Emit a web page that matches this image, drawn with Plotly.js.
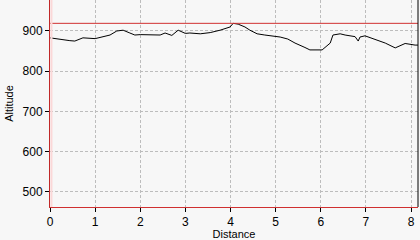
<!DOCTYPE html>
<html><head><meta charset="utf-8">
<script src="https://cdn.plot.ly/plotly-3.0.1.min.js"></script>
<style>html,body{margin:0;padding:0;background:#f7f7f7;}</style>
</head><body><div id="c" style="width:420px;height:240px;"></div>
<script>
const distance = [0.00,0.22,0.44,0.55,0.73,1.00,1.22,1.33,1.48,1.62,1.77,1.88,2.00,2.44,2.55,2.70,2.84,3.00,3.10,3.33,3.55,3.77,3.99,4.06,4.17,4.32,4.43,4.59,4.76,5.10,5.27,5.43,5.65,5.76,6.03,6.05,6.21,6.27,6.43,6.54,6.76,6.83,6.87,6.98,7.21,7.43,7.65,7.76,7.87,8.09,8.18];
const altitude = [883,879,876,875,883,881,888,890,900,902,895,890,891,890,895,889,902,894,895,893,896,902,910,919,917,910,902,893,890,885,880,870,859,853,853,855,870,890,893,890,886,875,885,888,878,870,858,863,869,865,865];
const xTicks = [0,1,2,3,4,5,6,7,8];
const yTicks = [500,600,700,800,900];
const maxAlt = Math.max(...altitude);

const font = {family:'Liberation Sans, DejaVu Sans, sans-serif', size:12, color:'#000'};
const tfont = {family:'Liberation Sans, DejaVu Sans, sans-serif', size:11, color:'#000'};
Plotly.newPlot('c', [{
  x: distance, y: altitude, type:'scatter', mode:'lines',
  line:{color:'#000', width:1}, hoverinfo:'skip'
}], {
  width:420, height:240,
  margin:{l:50, r:2, t:0, b:33},
  paper_bgcolor:'#f7f7f7', plot_bgcolor:'#f7f7f7',
  font: font,
  showlegend:false,
  xaxis:{range:[0,8.155], tickvals:xTicks, ticks:'outside', ticklen:4, tickcolor:'#000',
    showgrid:true, gridcolor:'#bdbdbd', griddash:'3px,2px', gridwidth:1,
    zeroline:false, showline:true, linecolor:'#d03030', linewidth:1,
    mirror:false, title:{text:'Distance', font:tfont, standoff:3}, fixedrange:true},
  yaxis:{range:[462.7,977], tickvals:yTicks, ticks:'outside', ticklen:4, tickcolor:'#000',
    showgrid:true, gridcolor:'#bdbdbd', griddash:'3px,2px', gridwidth:1,
    zeroline:false, showline:true, linecolor:'#c02828', linewidth:1,
    title:{text:'Altitude', font:tfont, standoff:6}, fixedrange:true},
  shapes:[
    {type:'line', xref:'paper', yref:'y', x0:0, x1:1, y0:maxAlt, y1:maxAlt,
     line:{color:'#d03030', width:1}},
    {type:'line', xref:'paper', yref:'paper', x0:1, x1:1, y0:0, y1:1,
     line:{color:'#000', width:1}},
    {type:'line', xref:'paper', yref:'paper', x0:0.004, x1:0.004, y0:0, y1:1,
     line:{color:'#fbd8d8', width:2}}
  ]
}, {staticPlot:true, displayModeBar:false});
</script></body></html>
